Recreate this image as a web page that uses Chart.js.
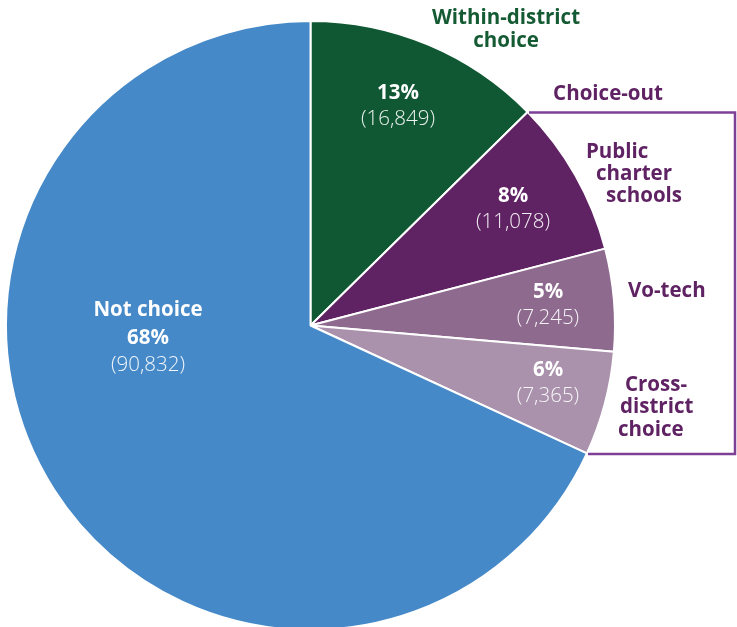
<!DOCTYPE html>
<html>
<head>
<meta charset="utf-8">
<script src="https://cdn.jsdelivr.net/npm/chart.js@4/dist/chart.umd.min.js"></script>
<style>
  html, body { margin: 0; padding: 0; background: #fff; overflow: hidden; }
  #wrap { width: 737px; height: 627px; overflow: hidden; }
  canvas { display: block; }
</style>
</head>
<body>
<div id="wrap"><canvas id="c" width="737" height="640"></canvas></div>
<script>
// Student enrolment by choice type
const categories = ['Within-district choice', 'Public charter schools', 'Vo-tech', 'Cross-district choice', 'Not choice'];
const students = [16849, 11078, 7245, 7365, 90832];
const sliceColors = ['#0f5833', '#5f2263', '#8d6a8e', '#aa91ac', '#4589c8'];
const groupLabel = 'Choice-out';

const total = students.reduce((a, b) => a + b, 0);
const pct = students.map(v => Math.round(v / total * 100) + '%');
const fmt = v => '(' + v.toLocaleString('en-US') + ')';

const FONT = '"Open Sans", "Noto Sans", sans-serif';
const SIZE = '20.5px ';
const GREEN = '#145a33';
const PURPLE = '#5f2263';

const labelPlugin = {
  id: 'sliceLabels',
  afterDraw(chart) {
    const ctx = chart.ctx;
    ctx.save();

    // bracket around the choice-out slices
    ctx.strokeStyle = '#7d4096';
    ctx.lineWidth = 2.5;
    ctx.beginPath();
    ctx.moveTo(529, 112.5);
    ctx.lineTo(735, 112.5);
    ctx.lineTo(735, 454);
    ctx.lineTo(588, 454);
    ctx.stroke();

    // values inside slices
    const inner = [
      [398, 93, 119],
      [513, 196, 222],
      [548, 292, 318],
      [548, 370, 396],
      [148, 338, 365]
    ];
    ctx.textAlign = 'center';
    ctx.textBaseline = 'middle';
    inner.forEach((p, i) => {
      ctx.fillStyle = '#ffffff';
      ctx.font = 'bold ' + SIZE + FONT;
      ctx.fillText(pct[i], p[0], p[1]);
      ctx.font = '300 ' + SIZE + FONT;
      ctx.fillStyle = 'rgba(255,255,255,0.92)';
      ctx.fillText(fmt(students[i]), p[0], p[2]);
    });
    ctx.fillStyle = '#ffffff';
    ctx.font = 'bold ' + SIZE + FONT;
    ctx.fillText('Not choice', 148, 310);

    // outside names
    ctx.fillStyle = GREEN;
    ctx.fillText('Within-district', 506, 18);
    ctx.fillText('choice', 506, 41);

    ctx.fillStyle = PURPLE;
    ctx.fillText(groupLabel, 608, 94);

    ctx.textAlign = 'left';
    ctx.fillText('Public', 586, 152);
    ctx.fillText('charter', 596, 174);
    ctx.fillText('schools', 606, 196);

    ctx.fillText('Vo-tech', 628, 291);

    ctx.fillText('Cross-', 625, 385);
    ctx.fillText('district', 620, 407);
    ctx.fillText('choice', 618, 430);

    ctx.restore();
  }
};

new Chart(document.getElementById('c'), {
  type: 'pie',
  data: {
    labels: categories,
    datasets: [{
      data: students,
      backgroundColor: sliceColors,
      borderColor: '#ffffff',
      borderWidth: 2,
      hoverOffset: 0
    }]
  },
  options: {
    responsive: false,
    animation: false,
    devicePixelRatio: 1,
    layout: { padding: { left: 5, top: 20, right: 121, bottom: 9 } },
    plugins: {
      legend: { display: false },
      tooltip: { enabled: false }
    }
  },
  plugins: [labelPlugin]
});
</script>
</body>
</html>
